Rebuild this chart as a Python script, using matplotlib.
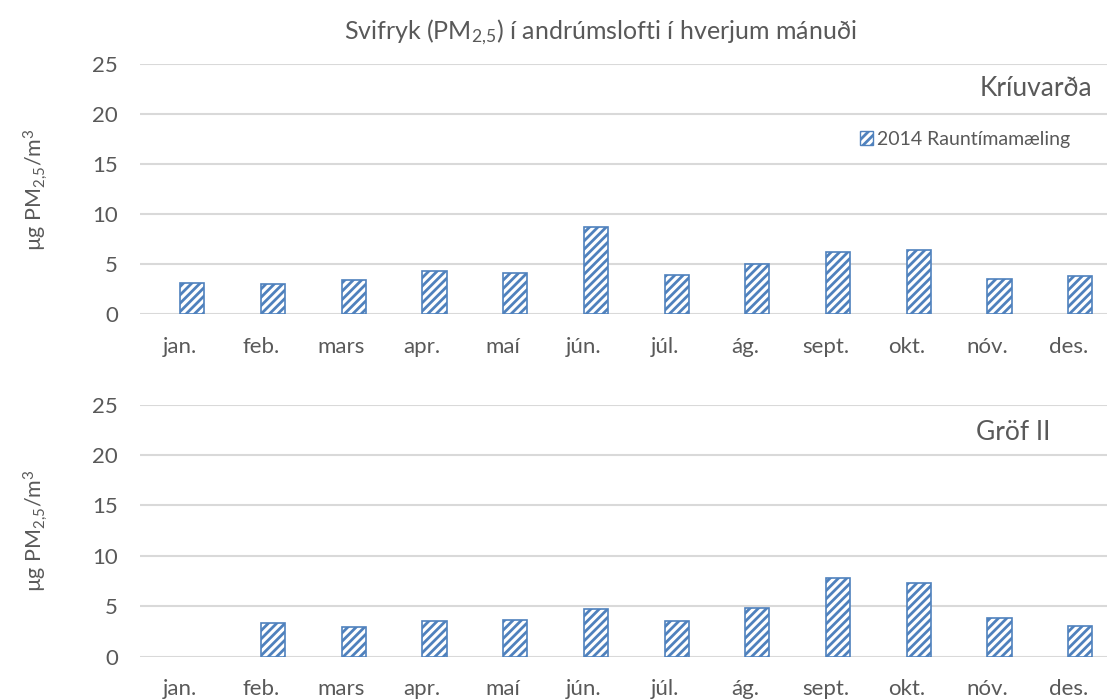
import numpy as np
import matplotlib
matplotlib.use('Agg')
import matplotlib.pyplot as plt
from matplotlib.patches import Patch

plt.rcParams['font.family'] = ['Lato', 'DejaVu Sans']
plt.rcParams['mathtext.fontset'] = 'custom'
plt.rcParams['mathtext.rm'] = 'Lato'
plt.rcParams['mathtext.it'] = 'Lato'
plt.rcParams['hatch.linewidth'] = 2.0

months = ['jan.', 'feb.', 'mars', 'apr.', 'maí', 'jún.', 'júl.', 'ág.', 'sept.', 'okt.', 'nóv.', 'des.']
kriuvarda = [3.1, 3.0, 3.4, 4.35, 4.15, 8.7, 3.95, 5.0, 6.2, 6.45, 3.55, 3.85]
grof = [np.nan, 3.3, 2.95, 3.5, 3.65, 4.7, 3.5, 4.8, 7.8, 7.35, 3.85, 3.0]
stations = ['Kríuvarða', 'Gröf II']
series_name = '2014 Rauntímamæling'

blue = '#4F81BD'
grey = '#595959'
grid = '#D9D9D9'

fig = plt.figure(figsize=(11.07, 7), dpi=100)
ax_top = fig.add_axes([140/1107, 0.551, (1107-140)/1107, 0.357])
ax_bot = fig.add_axes([140/1107, 0.062, (1107-140)/1107, 0.360])

ylab = r'µg PM$_{\mathrm{2{,}5}}$/m$^{\mathrm{3}}$'

x = np.arange(len(months))
for ax, vals in [(ax_top, kriuvarda), (ax_bot, grof)]:
    ax.bar(x, vals, width=0.3, facecolor='white', edgecolor=blue, hatch='////', linewidth=1.2, zorder=3)
    ax.set_ylim(0, 25)
    ax.set_xlim(-0.646, 11.33)
    ax.set_yticks([0, 5, 10, 15, 20, 25])
    ax.set_xticks(x - 0.15)
    ax.set_xticklabels(months)
    ax.grid(axis='y', color=grid, linewidth=1.5, zorder=0)
    ax.set_axisbelow(True)
    for s in ax.spines.values():
        s.set_visible(False)
    ax.tick_params(length=0, labelsize=16, labelcolor=grey)
    ax.tick_params(axis='y', pad=16)
    ax.tick_params(axis='x', pad=16)
    ax.set_ylabel(ylab, fontsize=15.5, color=grey)
    ax.yaxis.set_label_coords(-0.093, 0.5)

fig.text(1092/1107, 1 - 88/700, stations[0], fontsize=19, color=grey, ha='right', va='center')
fig.text(1050/1107, 1 - 433/700, stations[1], fontsize=19, color=grey, ha='right', va='center')

fig.text(600/1107, 1 - 32/700, r'Svifryk (PM$_{\mathrm{2{,}5}}$) í andrúmslofti í hverjum mánuði',
         fontsize=18, color=grey, ha='center', va='center')

leg = ax_top.legend(handles=[Patch(facecolor='white', edgecolor=blue, hatch='////', label=series_name)],
                    loc='center right', bbox_to_anchor=(1080/1107, 1 - 139/700),
                    bbox_transform=fig.transFigure, frameon=False, fontsize=14,
                    handlelength=0.7, handleheight=0.7, handletextpad=0.2, borderpad=0)
for t in leg.get_texts():
    t.set_color(grey)

fig.savefig('out.png', dpi=100, facecolor='white')
